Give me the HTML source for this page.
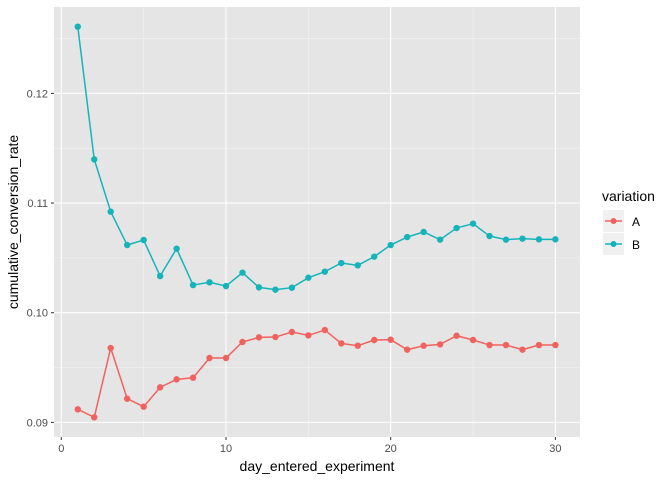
<!DOCTYPE html>
<html><head><meta charset="utf-8"><style>
body{margin:0;background:#fff;font-family:"Liberation Sans",sans-serif}
</style></head><body>
<svg id="chart" width="672" height="480" xmlns="http://www.w3.org/2000/svg" font-family="Liberation Sans, sans-serif">
<rect x="54" y="7" width="526" height="430" fill="#e5e5e5"/>
<g id="grid"></g>
<g id="axes"></g>
<g id="series"></g>
<text x="317" y="471" text-anchor="middle" font-size="14" fill="#000">day_entered_experiment</text>
<text transform="translate(18,222) rotate(-90)" text-anchor="middle" font-size="14" fill="#000">cumulative_conversion_rate</text>
<g>
<text x="602" y="201" font-size="14" fill="#000">variation</text>
<g>
<rect x="603" y="210" width="21" height="22" fill="#f0f0f0"/>
<line x1="605" y1="221" x2="622" y2="221" stroke="#F0625D" stroke-width="1.5"/>
<circle cx="613.5" cy="221" r="3" fill="#F0625D"/>
<text x="632" y="226" font-size="12" fill="#000">A</text></g>
<g>
<rect x="603" y="233" width="21" height="22" fill="#f0f0f0"/>
<line x1="605" y1="244" x2="622" y2="244" stroke="#15B4BA" stroke-width="1.5"/>
<circle cx="613.5" cy="244" r="3" fill="#15B4BA"/>
<text x="632" y="249" font-size="12" fill="#000">B</text></g>
</g>
</svg>
<script>
const days=[1,2,3,4,5,6,7,8,9,10,11,12,13,14,15,16,17,18,19,20,21,22,23,24,25,26,27,28,29,30];
const seriesA=[0.09119,0.09046,0.09678,0.09216,0.09143,0.09319,0.09392,0.09407,0.09587,0.09587,0.09733,0.09775,0.09778,0.09824,0.09793,0.09842,0.09720,0.09699,0.09751,0.09754,0.09663,0.09699,0.09711,0.09790,0.09751,0.09705,0.09705,0.09663,0.09705,0.09705];
const seriesB=[0.12608,0.11398,0.10921,0.10617,0.10663,0.10334,0.10584,0.10252,0.10277,0.10243,0.10365,0.10231,0.10210,0.10228,0.10319,0.10374,0.10453,0.10432,0.10511,0.10617,0.10690,0.10736,0.10666,0.10772,0.10812,0.10699,0.10666,0.10675,0.10669,0.10669];
const xTicks=[0,10,20,30];
const yTicks=[0.09,0.10,0.11,0.12];
const yTickLabels=["0.09","0.10","0.11","0.12"];
const NS="http://www.w3.org/2000/svg";
function xs(d){return 61.3+d*16.47;}
function ys(v){return 312.7-(v-0.10)*10967;}
function mk(tag,attrs,parent){const e=document.createElementNS(NS,tag);for(const k in attrs)e.setAttribute(k,attrs[k]);parent.appendChild(e);return e;}
const grid=document.getElementById('grid'),axes=document.getElementById('axes'),ser=document.getElementById('series');
for(let i=0;i<xTicks.length-1;i++){const m=(xTicks[i]+xTicks[i+1])/2;const l=mk('line',{x1:xs(m),x2:xs(m),y1:7,y2:437,stroke:'#f2f2f2','stroke-width':0.6},grid);

}
for(let i=0;i<yTicks.length-1;i++){const m=(yTicks[i]+yTicks[i+1])/2;const l=mk('line',{x1:54,x2:580,y1:ys(m),y2:ys(m),stroke:'#f2f2f2','stroke-width':0.6},grid);

}
{const m=yTicks[yTicks.length-1]+0.005;const l=mk('line',{x1:54,x2:580,y1:ys(m),y2:ys(m),stroke:'#f2f2f2','stroke-width':0.6},grid);

}
xTicks.forEach(t=>{const l=mk('line',{x1:xs(t),x2:xs(t),y1:7,y2:437,stroke:'#fff','stroke-width':1.1},grid);


const tk=mk('line',{x1:xs(t),x2:xs(t),y1:437,y2:440,stroke:'#333','stroke-width':1},axes);


const tx=mk('text',{x:xs(t),y:452,'text-anchor':'middle','font-size':11,fill:'#4d4d4d'},axes);tx.textContent=t;

});
yTicks.forEach((t,i)=>{const l=mk('line',{x1:54,x2:580,y1:ys(t),y2:ys(t),stroke:'#fff','stroke-width':1.1},grid);


const tk=mk('line',{x1:51,x2:54,y1:ys(t),y2:ys(t),stroke:'#333','stroke-width':1},axes);


const tx=mk('text',{x:48,y:ys(t)+4,'text-anchor':'end','font-size':11,fill:'#4d4d4d'},axes);tx.textContent=yTickLabels[i];

});
function draw(vals,color,name){const pts=days.map((d,i)=>xs(d)+','+ys(vals[i])).join(' ');
const pl=mk('polyline',{points:pts,fill:'none',stroke:color,'stroke-width':1.5},ser);


days.forEach((d,i)=>{const c=mk('circle',{cx:xs(d),cy:ys(vals[i]),r:3.2,fill:color},ser);

});}
draw(seriesA,'#F0625D','a');
draw(seriesB,'#15B4BA','b');
</script>
</body></html>
